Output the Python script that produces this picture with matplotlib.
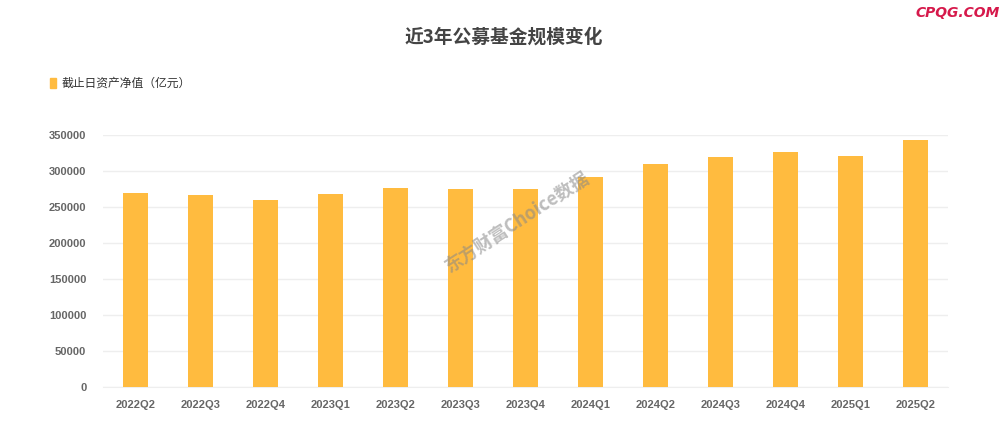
import numpy as np
import matplotlib.pyplot as plt

plt.rcParams['font.family'] = ['Noto Sans CJK SC', 'DejaVu Sans']

quarters = ["2022Q2", "2022Q3", "2022Q4", "2023Q1", "2023Q2", "2023Q3", "2023Q4",
            "2024Q1", "2024Q2", "2024Q3", "2024Q4", "2025Q1", "2025Q2"]
net_assets = [269500, 266800, 260300, 267400, 276500, 275200, 275500,
              292000, 309800, 319400, 326400, 320800, 343000]
yticks = [0, 50000, 100000, 150000, 200000, 250000, 300000, 350000]

bar_color = "#FFBB3F"

fig = plt.figure(figsize=(10.08, 4.44), dpi=100)
ax = fig.add_axes([103 / 1008, 1 - 387 / 444, (948 - 103) / 1008, (387 - 135) / 444])

x = np.arange(len(quarters))
ax.bar(x, net_assets, width=0.37, color=bar_color, zorder=3)

ax.set_xlim(-0.5, len(quarters) - 0.5)
ax.set_ylim(0, 350000)
ax.set_yticks(yticks)
ax.set_yticklabels([str(v) for v in yticks])
ax.set_xticks(x)
ax.set_xticklabels(quarters)
ax.tick_params(axis="both", length=0, labelsize=8, labelcolor="#666666")
ax.tick_params(axis="x", pad=9)
ax.tick_params(axis="y", pad=12)
for lbl in ax.get_xticklabels() + ax.get_yticklabels():
    lbl.set_fontweight("bold")
    lbl.set_family(["Liberation Sans", "DejaVu Sans"])

ax.grid(axis="y", color="#EEEEEE", linewidth=1, zorder=0)
for side in ["top", "right", "left"]:
    ax.spines[side].set_visible(False)
ax.spines["bottom"].set_color("#EEEEEE")

fig.text(0.5, 1 - 37 / 444, "近3年公募基金规模变化", ha="center", va="center",
         fontsize=13.5, fontweight="bold", color="#444444")

# legend
fig.patches.append(plt.Rectangle((50 / 1008, 1 - 88 / 444), 6 / 1008, 10 / 444,
                                 transform=fig.transFigure, color=bar_color))
fig.text(62 / 1008, 1 - 83 / 444, "截止日资产净值（亿元）", ha="left", va="center",
         fontsize=8.5, color="#333333")

# watermark
fig.text(517 / 1008, 1 - 222 / 444, "东方财富Choice数据", ha="center", va="center",
         rotation=33, fontsize=13, fontweight="bold", color="#888888", alpha=0.55,
         family=["Noto Sans CJK SC", "DejaVu Serif"], style="italic")

fig.text(1000 / 1008, 1 - 13 / 444, "CPQG.COM", ha="right", va="center",
         fontsize=10, fontweight="bold", color="#D6194B", style="italic",
         family=["DejaVu Sans"])

fig.savefig("out.png", dpi=100)
